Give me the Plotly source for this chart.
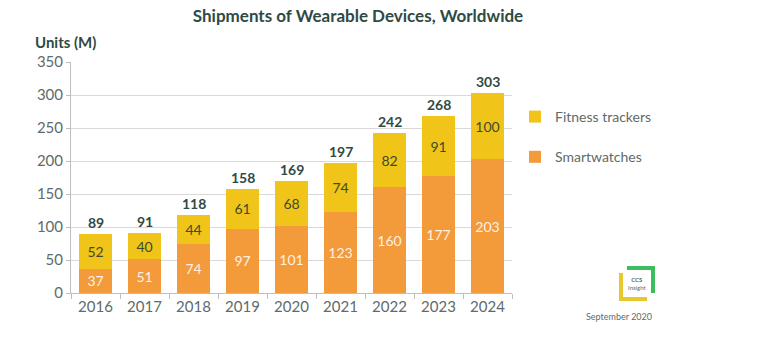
import plotly.graph_objects as go

years = ["2016", "2017", "2018", "2019", "2020", "2021", "2022", "2023", "2024"]
smartwatches = [37, 51, 74, 97, 101, 123, 160, 177, 203]
fitness_trackers = [52, 40, 44, 61, 68, 74, 82, 91, 100]
totals = [s + f for s, f in zip(smartwatches, fitness_trackers)]
y_ticks = [0, 50, 100, 150, 200, 250, 300, 350]

ORANGE = "#F39A3B"
YELLOW = "#F0C419"
DARK = "#2F4A45"
GREY = "#5E6B6A"
FONT = "Lato"

W, H = 784, 356
L, R, T, B = 71, 272, 62, 63
PW, PH = W - L - R, H - T - B


def px(x):
    return (x - L) / PW


def py(y):
    return (H - B - y) / PH


fig = go.Figure()
fig.add_trace(go.Bar(
    x=years, y=smartwatches, name="Smartwatches",
    marker=dict(color=ORANGE, line=dict(width=0)),
    text=smartwatches, textposition="inside", insidetextanchor="middle",
    textfont=dict(color="#FFF1E2", size=14, family=FONT),
    legendgroup="a", legendrank=2,
))
fig.add_trace(go.Bar(
    x=years, y=fitness_trackers, name="Fitness trackers",
    marker=dict(color=YELLOW, line=dict(width=0)),
    text=fitness_trackers, textposition="inside", insidetextanchor="middle",
    textfont=dict(color="#3E4A2C", size=14, family=FONT),
    legendgroup="b", legendrank=1,
))

for i, t in enumerate(totals):
    fig.add_annotation(x=i, y=t, text=f"<b>{t}</b>", showarrow=False,
                       yanchor="bottom", yshift=1,
                       font=dict(color=DARK, size=14, family=FONT))

fig.update_layout(
    width=W, height=H,
    margin=dict(l=L, r=R, t=T, b=B, autoexpand=False),
    paper_bgcolor="white", plot_bgcolor="white",
    barmode="stack", bargap=0.33,
    title=dict(text="<b>Shipments of Wearable Devices, Worldwide</b>",
               x=358 / W, xanchor="center", y=1 - 16 / H, yanchor="middle",
               font=dict(color=DARK, size=17, family=FONT)),
    font=dict(family=FONT, color=GREY, size=14),
    legend=dict(x=px(515), y=py(101), xanchor="left", yanchor="top",
                traceorder="grouped", tracegroupgap=19,
                font=dict(size=14, color=GREY, family=FONT),
                itemwidth=30),
    xaxis=dict(type="category", range=[-0.5, 8.5], showline=True,
               automargin=False,
               linecolor="#BFBFBF", ticks="outside", tickson="boundaries",
               ticklen=5, tickcolor="#BFBFBF",
               tickfont=dict(size=15, color=GREY)),
    yaxis=dict(range=[0, 350], tickvals=y_ticks, showline=True,
               automargin=False,
               linecolor="#BFBFBF", ticks="outside", ticklen=4,
               tickcolor="#BFBFBF", showgrid=True, gridcolor="#D9D9D9",
               zeroline=False, tickfont=dict(size=15, color=GREY)),
)

fig.add_annotation(xref="paper", yref="paper", x=px(33), y=py(42),
                   xanchor="left", yanchor="middle", showarrow=False,
                   text="<b>Units (M)</b>",
                   font=dict(color=DARK, size=15, family=FONT))

# footer: date and logo
fig.add_annotation(xref="paper", yref="paper", x=px(619), y=py(316),
                   xanchor="center", yanchor="middle", showarrow=False,
                   text="September 2020",
                   font=dict(color=GREY, size=9, family=FONT))
fig.add_shape(type="path", xref="paper", yref="paper",
              path=f"M {px(621)} {py(273)} L {px(621)} {py(299)} L {px(647)} {py(299)}",
              line=dict(color="#E8C82A", width=4))
fig.add_shape(type="path", xref="paper", yref="paper",
              path=f"M {px(627)} {py(268)} L {px(653)} {py(268)} L {px(653)} {py(293)}",
              line=dict(color="#3DBE5E", width=4))
fig.add_annotation(xref="paper", yref="paper", x=px(637), y=py(283),
                   xanchor="center", yanchor="middle", showarrow=False,
                   text="<b>CCS</b><br>Insight",
                   font=dict(color=GREY, size=6, family=FONT))

fig.write_html("out.html",
               config={"displayModeBar": False},
               post_script="document.body.style.margin='0';")
